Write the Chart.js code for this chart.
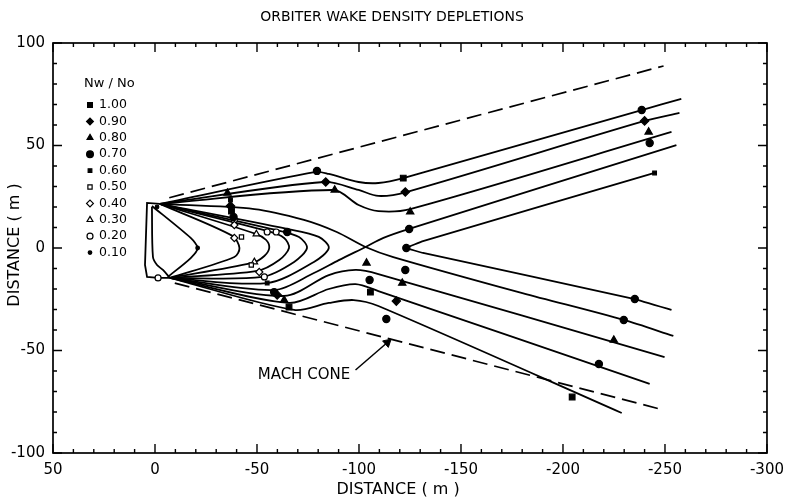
<!DOCTYPE html>
<html><head><meta charset="utf-8">
<script src="https://cdn.jsdelivr.net/npm/chart.js"></script>
<style>html,body{margin:0;padding:0;background:#fff}#wrap{width:792px;height:502px}</style>
</head><body><div id="wrap"><canvas id="c" width="792" height="502"></canvas></div>
<script>
// ---------- text ----------
const chartTitle = 'ORBITER WAKE DENSITY DEPLETIONS';
const xAxisTitle = 'DISTANCE ( m )';
const yAxisTitle = 'DISTANCE ( m )';
const legendTitle = 'Nw / No';
const xTickValues = [50, 0, -50, -100, -150, -200, -250, -300];
const yTickValues = [100, 50, 0, -50, -100];
const minorStep = 10;

// ---------- density levels (legend) ----------
const levelLabels = ['1.00', '0.90', '0.80', '0.70', '0.60', '0.50', '0.40', '0.30', '0.20', '0.10'];

// ---------- orbiter body (x, y in metres) ----------
const orbiterOutline = [[-2.4,21.5],[3.9,22],[4.9,-8.3],[3.9,-14.1],[-1.5,-14.6],[-7.3,-14.6]];
const orbiterInner = [[1.5,20],[1.0,-4.4],[-1.0,-8.3],[-3.9,-10.7],[-7.3,-14.6]];

// ---------- contour lines ----------
const contourT1 = [[-2.4,21.5],[-78.9,37.1],[-85.2,36.1],[-99.8,32.2],[-109.5,31.7],[-121.7,34.1],[-238.6,67.3],[-258,72.7]];
const contourT2 = [[-2.4,21.5],[-82.8,32.2],[-99.8,28.3],[-109.5,25.4],[-123.2,27.3],[-240,62],[-257.1,65.9]];
const contourT3 = [[-2.4,21.5],[-87.6,28.3],[-99.8,21],[-109.5,18],[-125.1,19],[-253.2,56.6]];
const contourX1 = [[-2.4,21.5],[-48.7,19],[-73,13.7],[-89.1,7.8],[-103.2,0.5],[-116.8,-4.4],[-180.1,-22],[-229.8,-35.1],[-254.1,-42.9]];
const contourX2 = [[-7.3,-14.6],[-58.4,-20.5],[-77.9,-12.2],[-90.1,-5.9],[-103.2,0.5],[-112,4.9],[-124.6,9.3],[-255.6,50.2]];
const contourRightV = [[-244.9,36.6],[-131.4,3.4],[-123.2,0],[-131.4,-2.4],[-235.2,-24.9],[-253.2,-30.2]];
const contourB3 = [[-7.3,-14.6],[-63.3,-23.4],[-85.2,-13.2],[-98.3,-10.7],[-109.5,-12.7],[-249.8,-53.2]];
const contourB4 = [[-7.3,-14.6],[-65.7,-26.8],[-85.2,-20],[-98.3,-17.6],[-109.5,-21],[-242.5,-66.3]];
const contourB5 = [[-7.3,-14.6],[-68.2,-30.2],[-85.2,-26.8],[-97.4,-25.4],[-109.5,-28.3],[-228.8,-80.5]];
const contourV1 = [[1.5,20.5],[-17.5,4.9],[-20.9,0],[-17.5,-4.9],[-6.3,-14.1]];
const contourV2 = [[-2.4,21.5],[-38,5.9],[-41.4,0],[-38.9,-4.4],[-7.3,-14.6]];
const contourV3 = [[-2.4,21.5],[-49.7,6.8],[-54.5,3.9],[-56,0],[-53.6,-3.9],[-47.7,-7.3],[-7.3,-14.6]];
const contourV4 = [[-2.4,21.5],[-55,8.3],[-63.3,4.9],[-65.7,0],[-60.9,-5.9],[-50.1,-11.2],[-7.3,-14.6]];
const contourV5 = [[-2.4,21.5],[-59.4,8.8],[-70.6,5.4],[-74.5,0],[-68.2,-6.8],[-52.6,-14.1],[-7.3,-14.6]];
const contourV6 = [[-2.4,21.5],[-64.8,9.3],[-80.3,5.4],[-85.2,0],[-77.9,-6.8],[-55,-17.1],[-7.3,-14.6]];

// ---------- Mach cone ----------
const machConeUpper = [[-7,24.5],[-249.3,88.8]];
const machConeLower = [[-9.7,-17.1],[-249.3,-79]];
const machArrow = [[-98.3,-59.5],[-113.9,-46.1]];
const machLabel = 'MACH CONE';
const machLabelPos = [-73, -62];

// ---------- measured points by level ----------
const pts100 = [[-121.7,34.1],[-105.6,-21.5],[-204.5,-72.7],[-65.7,-28.8],[-37.5,18]];
const pts090 = [[-83.7,32.2],[-122.7,27.3],[-118.3,-25.9],[-59.9,-22.9],[-37,20.5],[-240,62]];
const pts080 = [[-88.1,28.3],[-125.1,17.6],[-103.7,-7.3],[-121.2,-17.1],[-242,56.6],[-224.9,-44.9],[-63.3,-25.4],[-35.5,26.8]];
const pts070 = [[-79.4,37.6],[-238.6,67.3],[-242.5,51.2],[-124.6,9.3],[-123.2,0],[-122.7,-10.7],[-105.2,-15.6],[-113.4,-34.6],[-235.2,-24.9],[-229.8,-35.1],[-217.6,-56.6],[-58.4,-21.5],[-38.5,15.1],[-64.8,7.8]];
const pts060 = [[-55,-17.1],[-37,23.4],[-244.9,36.6]];
const pts050 = [[-42.4,5.4],[-47.2,-8.3]];
const pts040 = [[-38.9,4.9],[-51.1,-11.7],[-38.9,11.2]];
const pts030 = [[-49.7,6.8],[-48.7,-6.8]];
const pts020 = [[-55,7.8],[-59.4,7.8],[-53.6,-14.1],[-38.9,13.7],[-1.5,-14.6]];
const pts010 = [[-20.9,0],[-1,20]];

// ---------- styles ----------
const levelStyles = [
  {pointStyle:'rect', filled:true, r:4},
  {pointStyle:'rectRot', filled:true, r:4.2},
  {pointStyle:'triangle', filled:true, r:4.2},
  {pointStyle:'circle', filled:true, r:3.6},
  {pointStyle:'rect', filled:true, r:2.6},
  {pointStyle:'rect', filled:false, r:3},
  {pointStyle:'rectRot', filled:false, r:3.6},
  {pointStyle:'triangle', filled:false, r:3.8},
  {pointStyle:'circle', filled:false, r:3},
  {pointStyle:'circle', filled:true, r:1.8}
];
const levelPoints = [pts100, pts090, pts080, pts070, pts060, pts050, pts040, pts030, pts020, pts010];

const toXY = arr => arr.map(p => ({x:p[0], y:p[1]}));
const FONT = '"DejaVu Sans", sans-serif';

function lineDs(arr, tension, dash, width){
  return {data: toXY(arr), showLine:true, borderColor:'#000', borderWidth: width||1.8,
    tension: tension, pointRadius:0, pointHoverRadius:0, borderDash: dash||[], fill:false, order:2};
}

const datasets = [
  lineDs(orbiterOutline, 0),
  lineDs(orbiterInner, 0.3),
  lineDs(contourT1, 0.3), lineDs(contourT2, 0.3), lineDs(contourT3, 0.3),
  lineDs(contourX1, 0.3), lineDs(contourX2, 0.3), lineDs(contourRightV, 0.05),
  lineDs(contourB3, 0.3), lineDs(contourB4, 0.3), lineDs(contourB5, 0.3),
  lineDs(contourV1, 0.25), lineDs(contourV2, 0.3), lineDs(contourV3, 0.3),
  lineDs(contourV4, 0.3), lineDs(contourV5, 0.3), lineDs(contourV6, 0.3),
  lineDs(machConeUpper, 0, [15,7], 1.7), lineDs(machConeLower, 0, [15,7], 1.7),
  lineDs(machArrow, 0, [], 1.5),
  {data:[{x:machArrow[1][0], y:machArrow[1][1]}], showLine:false, pointStyle:'triangle', rotation:48.5,
   pointRadius:5, pointBackgroundColor:'#000', pointBorderColor:'#000', pointBorderWidth:1, order:1}
];
levelPoints.forEach((pts, i) => {
  const s = levelStyles[i];
  datasets.push({label: levelLabels[i], data: toXY(pts), showLine:false, pointStyle:s.pointStyle,
    pointRadius:s.r, pointBackgroundColor: s.filled ? '#000' : '#fff', pointBorderColor:'#000',
    pointBorderWidth:1.2, order:0});
});

const decorPlugin = {
  id:'decor',
  afterDraw(chart){
    const {ctx, chartArea:a, scales:{x, y}} = chart;
    ctx.save();
    // frame
    ctx.strokeStyle = '#000'; ctx.lineWidth = 1.7;
    ctx.strokeRect(a.left, a.top, a.right - a.left, a.bottom - a.top);
    // ticks (inward)
    ctx.lineWidth = 1.4;
    ctx.beginPath();
    for (let v = x.min; v <= x.max + 0.001; v += minorStep){
      const px = x.getPixelForValue(v);
      const len = (Math.round(v) % 50 === 0) ? 9 : 4;
      ctx.moveTo(px, a.bottom); ctx.lineTo(px, a.bottom - len);
      ctx.moveTo(px, a.top); ctx.lineTo(px, a.top + len);
    }
    for (let v = y.min; v <= y.max + 0.001; v += minorStep){
      const py = y.getPixelForValue(v);
      const len = (Math.round(v) % 50 === 0) ? 9 : 4;
      ctx.moveTo(a.left, py); ctx.lineTo(a.left + len, py);
      ctx.moveTo(a.right, py); ctx.lineTo(a.right - len, py);
    }
    ctx.stroke();

    ctx.fillStyle = '#000';
    ctx.textAlign = 'center'; ctx.textBaseline = 'middle';
    // title
    ctx.font = '14px ' + FONT;
    ctx.fillText(chartTitle, 392, 17);
    // axis titles
    ctx.font = '16px ' + FONT;
    ctx.fillText(xAxisTitle, 398, 490);
    ctx.save();
    ctx.translate(15, 245); ctx.rotate(-Math.PI/2);
    ctx.fillText(yAxisTitle, 0, 0);
    ctx.restore();
    // Mach cone label
    ctx.font = '15px ' + FONT;
    ctx.fillText(machLabel, x.getPixelForValue(machLabelPos[0]), y.getPixelForValue(machLabelPos[1]));

    // legend
    ctx.textAlign = 'left';
    ctx.font = '13px ' + FONT;
    ctx.fillText(legendTitle, 84, 84);
    const rowY0 = 105, rowH = 16.4;
    levelLabels.forEach((lab, i) => {
      const s = levelStyles[i];
      const yy = rowY0 + i * rowH;
      ctx.fillStyle = s.filled ? '#000' : '#fff';
      ctx.strokeStyle = '#000'; ctx.lineWidth = 1.2;
      Chart.helpers.drawPoint(ctx, {pointStyle:s.pointStyle, radius:Math.min(s.r, 3.4), rotation:0, borderWidth:1.2}, 90, yy);
      ctx.fillStyle = '#000';
      ctx.font = '12.5px ' + FONT;
      ctx.fillText(lab, 99, yy);
    });
    ctx.restore();
  }
};

new Chart(document.getElementById('c'), {
  type:'scatter',
  data:{datasets},
  options:{
    responsive:false, animation:false, devicePixelRatio:1,
    layout:{padding:{left:0, right:20, top:43, bottom:0}},
    plugins:{legend:{display:false}, tooltip:{enabled:false}, title:{display:false}},
    scales:{
      x:{type:'linear', reverse:true, min:-300, max:50,
        afterBuildTicks: s => { s.ticks = xTickValues.map(v => ({value:v})); },
        afterFit: s => { s.height = 49; },
        grid:{display:false, drawTicks:false}, border:{display:false},
        ticks:{padding:8, color:'#000', font:{family:FONT, size:15}, maxRotation:0, autoSkip:false, callback: v => String(v)}},
      y:{type:'linear', min:-100, max:100,
        afterBuildTicks: s => { s.ticks = yTickValues.map(v => ({value:v})); },
        afterFit: s => { s.width = 53; },
        grid:{display:false, drawTicks:false}, border:{display:false},
        ticks:{padding:8, color:'#000', font:{family:FONT, size:15}, autoSkip:false, callback: v => String(v)}}
    }
  },
  plugins:[decorPlugin]
});
</script></body></html>
